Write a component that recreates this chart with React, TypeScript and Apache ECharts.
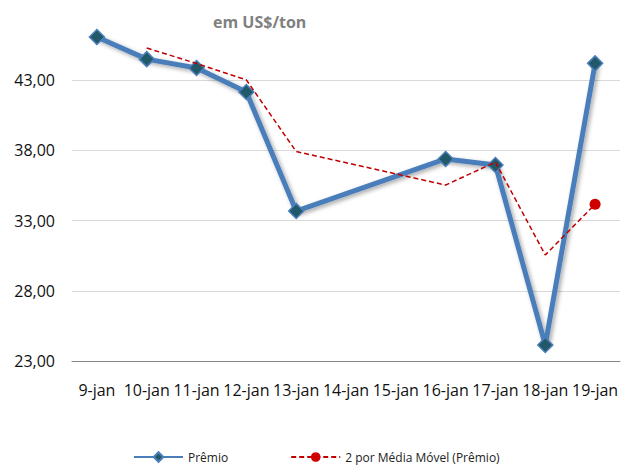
import React, { useEffect, useRef } from "react";
import * as echarts from "echarts";

const categories = ["9-jan", "10-jan", "11-jan", "12-jan", "13-jan", "14-jan", "15-jan", "16-jan", "17-jan", "18-jan", "19-jan"];
const premio: (number | null)[] = [46.08, 44.5, 43.87, 42.16, 33.68, null, null, 37.39, 36.96, 24.14, 44.2];
const mediaMovel: (number | null)[] = [null, 45.29, 44.19, 43.02, 37.92, null, null, 35.53, 37.17, 30.55, 34.17];
const yTicks = [23, 28, 33, 38, 43];

const FONT = "'Open Sans', sans-serif";

export default function App() {
  const ref = useRef<HTMLDivElement>(null);
  useEffect(() => {
    if (!ref.current) return;
    const chart = echarts.init(ref.current, null, { renderer: "svg" });
    const lastIdx = mediaMovel.length - 1;
    chart.setOption({
      animation: false,
      backgroundColor: "#ffffff",
      textStyle: { fontFamily: FONT },
      graphic: [
        {
          type: "text",
          left: 213,
          top: 14,
          style: { text: "em US$/ton", fill: "#808080", font: "bold 16px 'Open Sans', sans-serif" },
        },
      ],
      legend: {
        left: 128,
        top: 446,
        itemWidth: 49,
        itemHeight: 12,
        itemGap: 62,
        textStyle: { fontFamily: FONT, fontSize: 12, color: "#222" },
        data: [
          { name: "Prêmio", lineStyle: { width: 2, shadowBlur: 0, shadowOffsetX: 0, shadowOffsetY: 0 } },
          { name: "2 por Média Móvel (Prêmio)" },
        ],
      },
      grid: { left: 72, right: 3, top: 10, bottom: 108 },
      xAxis: {
        type: "category",
        data: categories,
        boundaryGap: true,
        axisLine: { show: true, lineStyle: { color: "#868686", width: 1 } },
        axisTick: { show: false },
        axisLabel: { interval: 0, margin: 21, fontSize: 16, color: "#111", fontFamily: FONT },
      },
      yAxis: {
        type: "value",
        min: 23,
        max: 48,
        interval: 5,
        axisLine: { show: false },
        axisTick: { show: false },
        axisLabel: {
          margin: 17,
          fontSize: 16,
          color: "#111",
          fontFamily: FONT,
          formatter: (v: number) => (yTicks.includes(v) ? v.toFixed(2).replace(".", ",") : ""),
        },
        splitLine: {
          lineStyle: {
            color: ["#868686", "#d9d9d9", "#d9d9d9", "#d9d9d9", "#d9d9d9", "rgba(0,0,0,0)"],
            width: 1,
          },
        },
      },
      series: [
        {
          name: "Prêmio",
          type: "line",
          data: premio.map((v) => (v === null ? "-" : v)),
          connectNulls: true,
          symbol: "diamond",
          symbolSize: 15,
          z: 2,
          lineStyle: {
            color: "#4a7ebb",
            width: 5,
            shadowBlur: 4,
            shadowColor: "rgba(0,0,0,0.35)",
            shadowOffsetX: 2,
            shadowOffsetY: 2,
          },
          itemStyle: { color: "#215968", borderColor: "#4a7ebb", borderWidth: 1.5 },
        },
        {
          name: "2 por Média Móvel (Prêmio)",
          type: "line",
          data: mediaMovel.map((v, i) =>
            v === null ? "-" : i === lastIdx ? { value: v } : { value: v, symbol: "none" }
          ),
          connectNulls: true,
          symbol: "circle",
          symbolSize: 11,
          z: 3,
          lineStyle: { color: "#c00000", width: 1.5, type: [5, 3] },
          itemStyle: { color: "#d00000" },
        },
      ],
    });
    return () => chart.dispose();
  }, []);
  return <div ref={ref} style={{ position: "fixed", left: 0, top: 0, width: 623, height: 469 }} />;
}
